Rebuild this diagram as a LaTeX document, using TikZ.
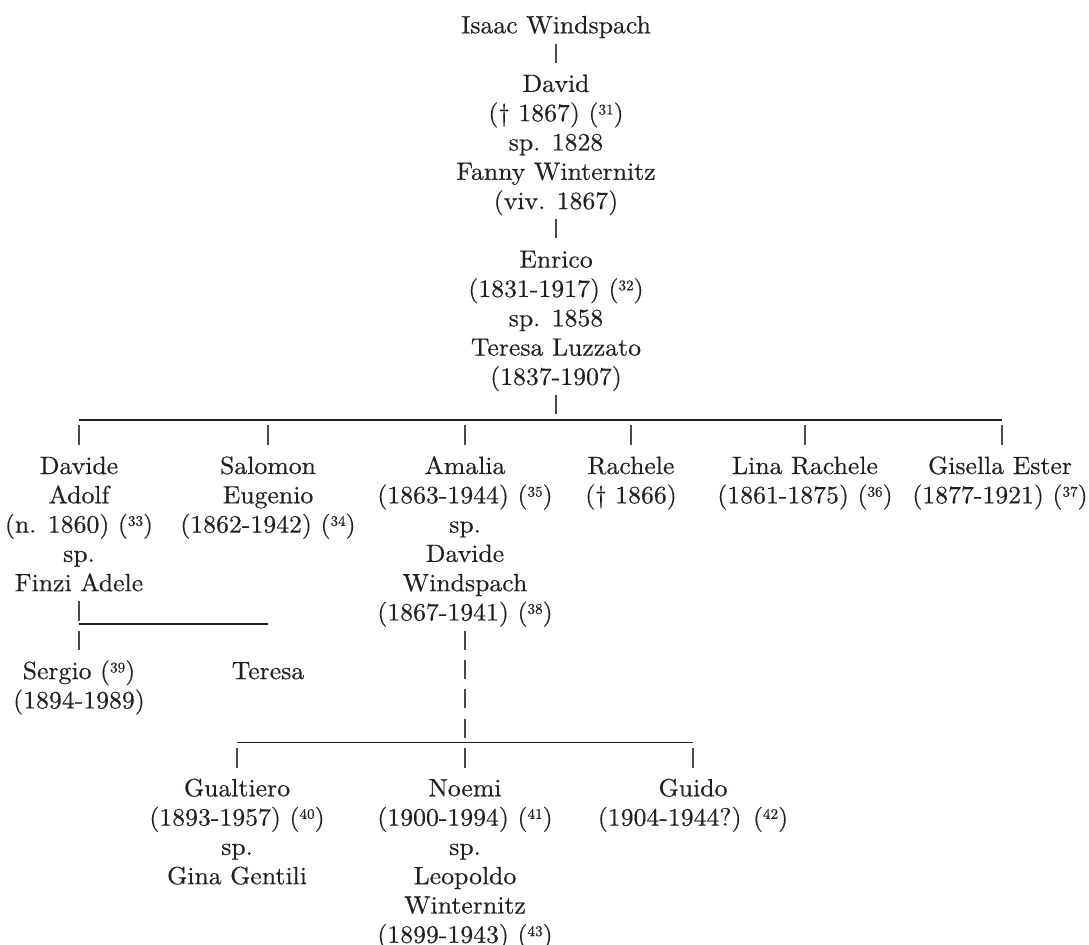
\documentclass[tikz,border=0pt]{standalone}
\usepackage{array}
\usepackage{fontspec}
\setmainfont{lmroman10-regular.otf}[FakeBold=0.4,FakeStretch=1.03]
\definecolor{ink}{HTML}{231F20}
\definecolor{barc}{HTML}{4A4A4A}
% one centred column; the baseline is that of the first line
\newcommand\lines[1]{\begin{tabular}[t]{@{}c@{}}#1\end{tabular}}
% raised note number in parentheses
\newcommand\fnote[1]{(\raisebox{0.27em}{\fontsize{11pt}{12pt}\selectfont #1})}
\begin{document}
\begin{tikzpicture}[x=0.75pt,y=-0.75pt,
  person/.style={anchor=base,inner sep=0pt,outer sep=0pt,text=ink,
    font=\fontsize{18.75pt}{21.975pt}\selectfont},
  bar/.style={draw=barc,line width=0.8pt},
  rule/.style={draw=ink,line width=1pt}]
\useasboundingbox (0,0) rectangle (1089,945);

% first generations
\node[person] (isaac)  at (556,33.3)  {\lines{Isaac Windspach}};
\node[person] (david)  at (556,91.9)  {\lines{David\\(\textdagger\ 1867) \fnote{31}\\sp. 1828\\Fanny Winternitz\\(viv. 1867)}};
\node[person] (enrico) at (556,267.7) {\lines{Enrico\\(1831-1917) \fnote{32}\\sp. 1858\\Teresa Luzzato\\(1837-1907)}};
\coordinate (j1) at (556,420);

% children of Enrico
\node[person] (davide)  at (79,474)   {\lines{Davide\\Adolf\\(n. 1860) \fnote{33}\\sp.\\Finzi Adele}};
\node[person] (salomon) at (268,474)  {\lines{Salomon\\Eugenio\\(1862-1942) \fnote{34}}};
\node[person] (amalia)  at (465,474)  {\lines{Amalia\\(1863-1944) \fnote{35}\\sp.\\Davide\\Windspach\\(1867-1941) \fnote{38}}};
\node[person] (rachele) at (631,474)  {\lines{Rachele\\(\textdagger\ 1866)}};
\node[person] (lina)    at (805,474)  {\lines{Lina Rachele\\(1861-1875) \fnote{36}}};
\node[person] (gisella) at (1000,474) {\lines{Gisella Ester\\(1877-1921) \fnote{37}}};

% children of Davide Adolf
\coordinate (j2) at (79,624);
\node[person] (sergio) at (79,679.1)  {\lines{Sergio \fnote{39}\\(1894-1989)}};
\node[person] (teresa) at (268,679.1) {\lines{Teresa}};

% children of Amalia
\coordinate (j3) at (465,742.7);
\node[person] (gualtiero) at (237,796.3) {\lines{Gualtiero\\(1893-1957) \fnote{40}\\sp.\\Gina Gentili}};
\node[person] (noemi)     at (465,796.3) {\lines{Noemi\\(1900-1994) \fnote{41}\\sp.\\Leopoldo\\Winternitz\\(1899-1943) \fnote{43}}};
\node[person] (guido)     at (693,796.3) {\lines{Guido\\(1904-1944?) \fnote{42}}};

% descent lines
\draw[bar,shorten <=1.1pt,shorten >=6.6pt] (isaac.south) -- (david.north);
\draw[bar,shorten <=1.1pt,shorten >=6.6pt] (david.south) -- (enrico.north);
\draw[bar,shorten <=1.1pt,shorten >=4.35pt] (enrico.south) -- (j1);
\draw[rule] (davide.north |- j1) -- ([xshift=1.5pt]gisella.north |- j1);
\foreach \c in {davide,salomon,amalia,rachele,lina}
  \draw[bar,shorten <=3.75pt,shorten >=6.4pt] (\c.north |- j1) -- (\c.north);
\draw[bar,shorten <=3.75pt,shorten >=6.4pt] ([xshift=1.5pt]gisella.north |- j1) -- ([xshift=1.5pt]gisella.north);

\draw[bar,shorten <=1.1pt,shorten >=2.6pt] (davide.south) -- (j2);
\draw[rule] (j2) -- (teresa.north |- j2);
\draw[bar,shorten <=5.1pt,shorten >=6.6pt] (j2) -- (sergio.north);

\draw[bar,dash pattern=on 14.25pt off 7.725pt,shorten <=1.1pt,shorten >=3.75pt] (amalia.south) -- (j3);
\draw[rule] (gualtiero.north |- j3) -- (guido.north |- j3);
\foreach \c in {gualtiero,noemi,guido}
  \draw[bar,shorten <=4pt,shorten >=5.85pt] (\c.north |- j3) -- (\c.north);
\end{tikzpicture}
\end{document}
